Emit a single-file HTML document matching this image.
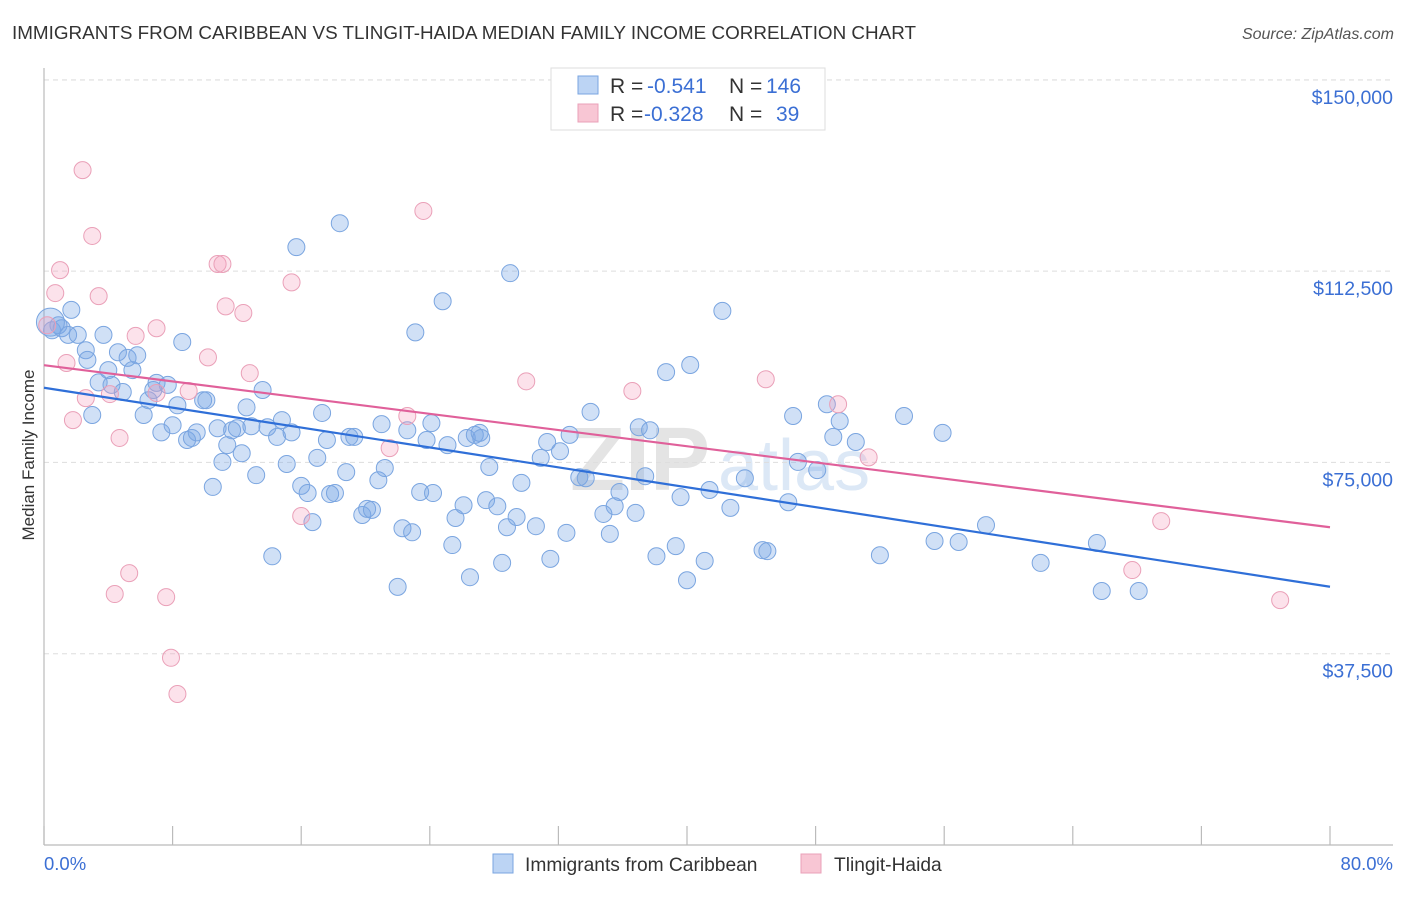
<!DOCTYPE html>
<html><head><meta charset="utf-8"><style>
body{margin:0;background:#fff;font-family:"Liberation Sans",sans-serif;}
svg text{font-family:"Liberation Sans",sans-serif;}
</style></head><body>
<svg id="chart" width="1406" height="892">
<text x="12" y="39" font-size="18.2" fill="#333" textLength="904" lengthAdjust="spacingAndGlyphs">IMMIGRANTS FROM CARIBBEAN VS TLINGIT-HAIDA MEDIAN FAMILY INCOME CORRELATION CHART</text>
<text x="1394" y="39" font-size="16" fill="#555" font-style="italic" text-anchor="end">Source: ZipAtlas.com</text>
<text x="570" y="490" font-size="90" fill="#e4e4e4" font-family="Liberation Serif" font-weight="bold">ZIP</text>
<text x="718" y="490" font-size="72" fill="#dce8f6">atlas</text>
<g id="grid"></g>
<g id="axes"></g>
<g id="points"></g>
<g id="lines"></g>
<text transform="translate(34,455) rotate(-90)" font-size="17" fill="#333" text-anchor="middle">Median Family Income</text>
<text x="44" y="870" font-size="18.5" fill="#3b6fd4">0.0%</text>
<text x="1393" y="870" font-size="18.5" fill="#3b6fd4" text-anchor="end">80.0%</text>
<g>
<rect x="551" y="68" width="274" height="62" fill="#fff" stroke="#ddd"/>
<rect x="578" y="76" width="20" height="18" fill="#bcd4f4" stroke="#7aa5e0"/>
<rect x="578" y="104" width="20" height="18" fill="#f8c6d4" stroke="#eaa0b8"/>
<text x="610" y="93" font-size="21" fill="#333">R = </text><text x="647" y="93" font-size="21" fill="#3b6fd4">-0.541</text>
<text x="729" y="93" font-size="21" fill="#333">N = </text><text x="766" y="93" font-size="21" fill="#3b6fd4">146</text>
<text x="610" y="121" font-size="21" fill="#333">R = </text><text x="644" y="121" font-size="21" fill="#3b6fd4">-0.328</text>
<text x="729" y="121" font-size="21" fill="#333">N = </text><text x="776" y="121" font-size="21" fill="#3b6fd4">39</text>
</g>
<g>
<rect x="493" y="854" width="20" height="19" fill="#bcd4f4" stroke="#7aa5e0"/>
<text x="525" y="871" font-size="19.2" fill="#333">Immigrants from Caribbean</text>
<rect x="801" y="854" width="20" height="19" fill="#f8c6d4" stroke="#eaa0b8"/>
<text x="834" y="871" font-size="19.2" fill="#333">Tlingit-Haida</text>
</g>
</svg>
<script>
const yTicks=[37500,75000,112500,150000];
const yTickLabels=["$37,500","$75,000","$112,500","$150,000"];
const xTicks=[0,8,16,24,32,40,48,56,64,72,80];
const blueX=[0.5,0.9,1.1,1.5,1.7,2.1,2.6,2.7,3.0,3.4,3.7,4.0,4.2,4.6,4.9,5.2,5.5,5.8,6.2,6.5,6.8,7.0,7.3,7.7,8.0,8.3,8.6,8.9,9.2,9.5,9.9,10.1,10.5,10.8,11.1,11.4,11.7,12.0,12.3,12.6,12.9,13.2,13.6,13.9,14.2,14.5,14.8,15.1,15.4,15.7,16.0,16.4,16.7,17.0,17.3,17.6,17.8,18.1,18.4,18.8,19.0,19.3,19.8,20.1,20.4,20.8,21.0,21.2,22.0,22.3,22.6,22.9,23.1,23.4,23.8,24.1,24.2,24.8,25.1,25.4,25.6,26.1,26.3,26.5,26.8,27.1,27.2,27.7,27.5,28.2,28.5,28.8,29.0,29.4,29.7,30.6,30.9,31.3,31.5,32.1,32.5,32.7,33.3,33.7,34.0,34.8,35.2,35.5,35.8,36.8,37.0,37.4,37.7,38.1,38.7,39.3,39.6,40.0,40.2,41.1,41.4,42.2,42.7,43.6,44.7,45.0,46.3,46.6,46.9,48.1,48.7,49.1,49.5,50.5,52.0,53.5,55.4,55.9,56.9,58.6,62.0,65.5,65.8,68.1,0.4];
const blueY=[100.9,101.9,101.3,100.0,104.9,100.0,97.0,95.1,84.3,90.7,100.0,93.1,90.2,96.6,88.8,95.5,93.1,96.0,84.3,87.2,89.2,90.6,80.9,90.2,82.3,86.2,98.6,79.4,79.8,80.9,87.2,87.2,70.2,81.7,75.1,78.4,81.3,81.7,76.8,85.8,82.1,72.5,89.2,81.9,56.6,80.0,83.3,74.7,80.9,117.2,70.4,69.0,63.3,75.9,84.7,79.4,68.8,69.0,121.9,73.1,80.0,80.0,64.7,65.9,65.7,71.5,82.5,73.9,50.6,62.1,81.3,61.3,100.5,69.2,79.4,82.7,69.0,106.6,78.4,58.8,64.1,66.6,79.8,52.5,80.4,80.8,79.8,74.1,67.6,66.4,55.3,62.3,112.1,64.3,71.0,62.5,75.9,79.0,56.1,77.2,61.2,80.4,72.1,71.9,84.9,64.9,61.0,66.4,69.2,65.1,81.9,72.3,81.3,56.6,92.7,58.6,68.2,51.9,94.1,55.7,69.6,104.7,66.1,71.9,57.8,57.6,67.2,84.1,75.1,73.5,86.4,80.0,83.1,79.0,56.8,84.1,59.6,80.8,59.4,62.7,55.3,59.2,49.8,49.8,102.5];
const pinkX=[0.2,0.7,1.0,1.4,1.8,2.6,3.0,3.4,4.1,4.4,4.7,5.3,5.7,7.0,7.0,7.6,7.9,8.3,9.0,10.2,10.8,11.1,11.3,12.4,12.8,15.4,16.0,21.5,22.6,23.6,30.0,36.6,44.9,49.4,51.3,67.7,69.5,76.9,2.4];
const pinkY=[101.9,108.2,112.7,94.5,83.3,87.6,119.4,107.6,88.4,49.2,79.8,53.3,99.8,101.3,88.6,48.6,36.7,29.6,89.0,95.6,113.9,113.9,105.6,104.3,92.5,110.3,64.5,77.8,84.1,124.3,90.9,89.0,91.3,86.4,76.0,53.9,63.5,48.0,132.3];
const X0=44,X1=1330,Y0=845,PX_PER_K=5.101;
const sx=v=>X0+(X1-X0)*v/80;
const sy=v=>Y0-v*PX_PER_K;
const NS="http://www.w3.org/2000/svg";
function mk(tag,attrs,parent){const e=document.createElementNS(NS,tag);for(const k in attrs)e.setAttribute(k,attrs[k]);parent.appendChild(e);return e;}
const grid=document.getElementById('grid'),axes=document.getElementById('axes'),pts=document.getElementById('points'),lines=document.getElementById('lines');
yTicks.forEach((t,i)=>{
 const y=sy(t/1000);
 const l=mk('line',{x1:X0,x2:1393,y1:y,y2:y,stroke:'#ddd','stroke-dasharray':'5,4'},grid);
 
 
 const tx=mk('text',{x:1393,y:y+24,'font-size':19.5,fill:'#3b6fd4','text-anchor':'end'},grid);
 tx.textContent=yTickLabels[i];
 
 
});
{const l=mk('line',{x1:X0,x2:1393,y1:80,y2:80,stroke:'#ddd','stroke-dasharray':'5,4'},grid);
 
 }
const ya=mk('line',{x1:X0,x2:X0,y1:68,y2:Y0,stroke:'#bbb','stroke-width':1.2},axes);


const xa=mk('line',{x1:X0,x2:1393,y1:Y0,y2:Y0,stroke:'#bbb','stroke-width':1.2},axes);


xTicks.forEach(t=>{
 const tk=mk('line',{x1:sx(t),x2:sx(t),y1:826,y2:Y0,stroke:'#bbb','stroke-width':1.2},axes);
 
 
});
function drawPts(xs,ys,fill,stroke,name){
 xs.forEach((x,i)=>{
  const c=mk('circle',{cx:sx(x),cy:sy(ys[i]),r:(name==='caribbean-point'&&i===xs.length-1)?14:8.5,fill:fill,stroke:stroke,'stroke-width':1},pts);
  
  
 });
}
drawPts(blueX,blueY,'rgba(120,165,230,0.35)','#7aa5e0','caribbean-point');
drawPts(pinkX,pinkY,'rgba(245,160,190,0.3)','#eaa0b8','tlingit-point');
function fit(xs,ys){const n=xs.length;let mx=0,my=0;for(let i=0;i<n;i++){mx+=xs[i];my+=ys[i];}mx/=n;my/=n;let a=0,b=0;for(let i=0;i<n;i++){a+=(xs[i]-mx)*(ys[i]-my);b+=(xs[i]-mx)**2;}const s=a/b;return[my-s*mx,s];}
function drawLine(xs,ys,color,name){const [b,s]=fit(xs,ys);
 const l=mk('line',{x1:sx(0),y1:sy(b),x2:sx(80),y2:sy(b+s*80),stroke:color,'stroke-width':2.2},lines);
 
 }
drawLine(blueX,blueY,'#2f6fd8','caribbean-trend-line');
drawLine(pinkX,pinkY,'#e0609a','tlingit-trend-line');
</script>
</body></html>
